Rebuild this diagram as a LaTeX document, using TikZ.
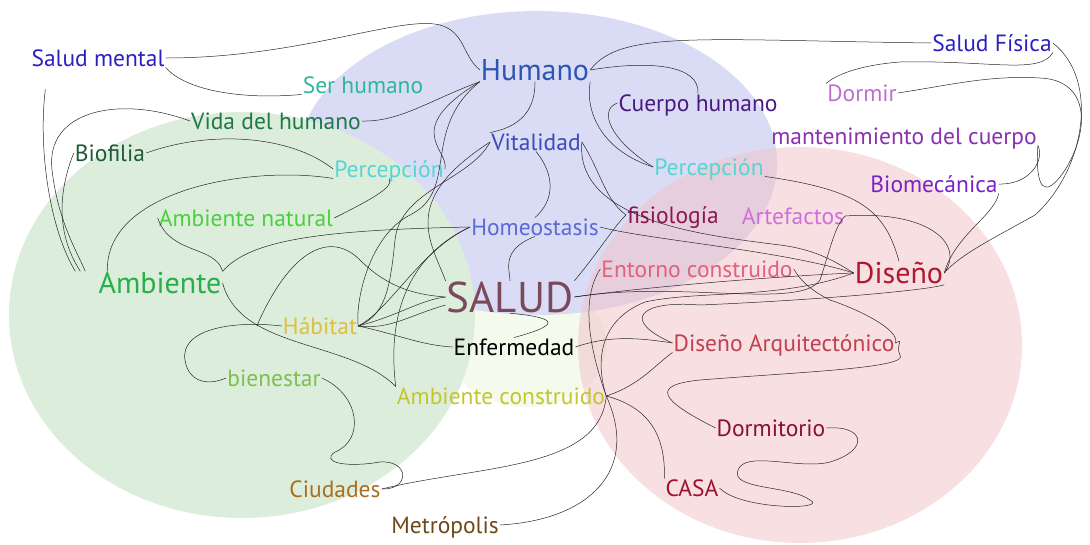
\documentclass[tikz,border=0pt]{standalone}
\usepackage{fontspec}
\setmainfont{PT Sans}
\usepackage{tikz}
\definecolor{bblue}{HTML}{DADBF4}
\definecolor{bgreen}{HTML}{DCEDDC}
\definecolor{bred}{HTML}{F0C4CB}
\definecolor{byell}{HTML}{F5FBEC}
\definecolor{cindigo}{HTML}{2B1FC4}
\definecolor{chum}{HTML}{2D55B3}
\definecolor{cteal}{HTML}{2DB79C}
\definecolor{cdkgreen}{HTML}{1E7848}
\definecolor{cbio}{HTML}{1F5A38}
\definecolor{ccyan}{HTML}{55D6D2}
\definecolor{clime}{HTML}{4ACF3E}
\definecolor{cgreen}{HTML}{2AAE4A}
\definecolor{cvital}{HTML}{3A4ABE}
\definecolor{chomeo}{HTML}{5A69D8}
\definecolor{ccuerpo}{HTML}{4A1A80}
\definecolor{cdormir}{HTML}{BE6FD0}
\definecolor{cmant}{HTML}{8A30B0}
\definecolor{cbiom}{HTML}{7A22C2}
\definecolor{cfisio}{HTML}{8E1650}
\definecolor{cartef}{HTML}{CF6FD8}
\definecolor{centorno}{HTML}{E0607E}
\definecolor{cdiseno}{HTML}{B0182E}
\definecolor{csalud}{HTML}{7A4A5C}
\definecolor{chabitat}{HTML}{DFBF3C}
\definecolor{cbien}{HTML}{7EC04E}
\definecolor{cambc}{HTML}{C4C62E}
\definecolor{cdisarq}{HTML}{C04050}
\definecolor{cdormit}{HTML}{8A1030}
\definecolor{ccasa}{HTML}{A0102E}
\definecolor{cciud}{HTML}{A86F20}
\definecolor{cmetro}{HTML}{6E4818}

\begin{document}
\begin{tikzpicture}[x=1pt,y=-1pt,
  lbl/.style={inner sep=1pt,font=\fontsize{23.5}{24}\selectfont,text height=16.5pt,text depth=0pt},
  big/.style={lbl,font=\fontsize{30}{30}\selectfont,text height=21pt},
  con/.style={draw=black!85,line width=0.5pt}]
\useasboundingbox (0,0) rectangle (1090,544);
\fill[byell] (527,345) ellipse[x radius=80,y radius=62];
\fill[bblue] (537,163) ellipse[x radius=240,y radius=152];
\fill[bred,fill opacity=0.55] (800,345) ellipse[x radius=222,y radius=198];
\fill[bgreen] (242,315) ellipse[x radius=233,y radius=203];

\node[lbl,cindigo] (smental) at (98,58) {Salud mental};
\node[big,chum] (humano) at (535,70) {Humano};
\node[lbl,cteal] (serh) at (363,85) {Ser humano};
\node[lbl,cdkgreen] (vida) at (276,121) {Vida del humano};
\node[lbl,cbio] (biof) at (110,153) {Biofilia};
\node[lbl,ccyan] (percL) at (389,169) {Percepción};
\node[lbl,clime] (ambnat) at (246,218) {Ambiente natural};
\node[big,cgreen] (amb) at (160,283) {Ambiente};
\node[lbl,cvital] (vital) at (536,142) {Vitalidad};
\node[lbl,chomeo] (homeo) at (535,227) {Homeostasis};
\node[lbl,ccuerpo] (cuerpo) at (698,103) {Cuerpo humano};
\node[lbl,ccyan] (percR) at (709,167) {Percepción};
\node[lbl,cdormir] (dormir) at (862,93) {Dormir};
\node[lbl,cmant] (mant) at (904,136) {mantenimiento del cuerpo};
\node[lbl,cbiom] (biomec) at (934,184) {Biomecánica};
\node[lbl,cfisio] (fisio) at (673,215) {fisiología};
\node[lbl,cartef] (artef) at (793,216) {Artefactos};
\node[lbl,centorno] (entorno) at (697,269) {Entorno construido};
\node[big,cdiseno] (diseno) at (899,273) {Diseño};
\node[lbl,csalud,font=\fontsize{43}{43}\selectfont,text height=30pt] (salud) at (510,297) {SALUD};
\node[lbl,chabitat] (habitat) at (320,326) {Hábitat};
\node[lbl,black] (enferm) at (514,347) {Enfermedad};
\node[lbl,cbien] (bienestar) at (274,378) {bienestar};
\node[lbl,cambc] (ambcons) at (501,396) {Ambiente construido};
\node[lbl,cdisarq] (disarq) at (784,343) {Diseño Arquitectónico};
\node[lbl,cdormit] (dormit) at (771,428) {Dormitorio};
\node[lbl,ccasa] (casa) at (692,488) {CASA};
\node[lbl,cciud] (ciud) at (335,489) {Ciudades};
\node[lbl,cmetro] (metro) at (445,525) {Metrópolis};
\node[lbl,cindigo] (sfisica) at (992,43) {Salud Física};

\draw[con] (smental.east) .. controls (300,58) and (400,15) .. (440,25) .. controls (465,32) and (462,55) .. (humano.west);
\draw[con] (smental.south east) .. controls (185,90) and (240,100) .. (serh.south west);
\draw[con] ([shift={(15,22)}]smental.south west) .. controls (38,150) and (50,230) .. ([xshift=-22pt]amb.north west);
\draw[con] (vida.west) .. controls (120,95) and (45,110) .. (52,170) .. controls (58,220) and (75,248) .. ([xshift=-12pt]amb.north west);
\draw[con] (biof.west) .. controls (55,200) and (60,240) .. ([xshift=-17pt]amb.north west);
\draw[con] (biof.east) .. controls (210,130) and (290,135) .. (percL.west);
\draw[con] ([xshift=10pt]amb.north west) .. controls (105,190) and (250,165) .. (percL.south west);
\draw[con] (vida.east) .. controls (400,122) and (430,100) .. (humano.south west);
\draw[con] (humano.south west) .. controls (400,130) and (450,150) .. (percL.east);
\draw[con] (humano.south west) .. controls (420,130) and (460,190) .. (410,215) .. controls (370,235) and (355,300) .. (habitat.east);
\draw[con] (vital.west) .. controls (470,180) and (400,190) .. (395,240) .. controls (390,290) and (385,315) .. (habitat.east);
\draw[con] (ambnat.west) .. controls (170,255) and (215,245) .. (amb.north east);
\draw[con] (ambnat.east) .. controls (370,200) and (395,187) .. (percL.south);
\draw[con] (amb.north east) .. controls (250,240) and (320,230) .. (homeo.west);
\draw[con] (homeo.west) .. controls (420,250) and (385,300) .. (ambcons.north west);
\draw[con] (homeo.west) .. controls (420,250) and (390,310) .. (habitat.east);
\draw[con] (habitat.east) .. controls (400,315) and (420,300) .. (salud.west);
\draw[con] (habitat.east) .. controls (390,330) and (410,315) .. ([yshift=-8pt]salud.west);
\draw[con] (habitat.east) .. controls (400,335) and (420,345) .. (enferm.west);
\draw[con] (amb.east) .. controls (240,350) and (350,340) .. (ambcons.north west);
\draw[con] (habitat.west) .. controls (230,320) and (180,330) .. (185,360) .. controls (188,380) and (205,387) .. (bienestar.west);
\draw[con] ([xshift=-25pt]habitat.west) .. controls (290,250) and (330,230) .. (360,260) .. controls (390,290) and (420,295) .. (salud.west);
\draw[con] (bienestar.east) .. controls (360,395) and (365,440) .. (335,452) .. controls (320,462) and (345,468) .. (380,462) .. controls (410,460) and (410,490) .. (ciud.east);
\draw[con] (ciud.east) .. controls (480,465) and (600,470) .. (ambcons.east);
\draw[con] (metro.east) .. controls (590,520) and (640,470) .. (ambcons.east);
\draw[con] (ambcons.east) .. controls (640,385) and (655,365) .. (disarq.south west);
\draw[con] (ambcons.east) .. controls (595,360) and (600,320) .. (645,302) .. controls (700,290) and (780,300) .. (diseno.west);
\draw[con] (ambcons.east) .. controls (660,410) and (665,450) .. (casa.north west);
\draw[con] (casa.east) .. controls (740,510) and (830,510) .. (810,500) .. controls (790,485) and (730,490) .. (738,470) .. controls (745,450) and (800,470) .. (830,462) .. controls (870,450) and (865,425) .. (dormit.east);
\draw[con] (dormit.west) .. controls (660,400) and (650,385) .. (700,380) .. controls (800,372) and (910,368) .. (900,355) .. controls (895,345) and (905,338) .. (disarq.east);
\draw[con] (disarq.east) .. controls (900,330) and (860,310) .. (830,300) .. controls (810,290) and (800,280) .. (entorno.east);
\draw[con] (disarq.west) .. controls (620,320) and (640,300) .. (700,305) .. controls (820,300) and (930,290) .. (diseno.south east);
\draw[con] (enferm.east) .. controls (610,335) and (640,338) .. (disarq.west);
\draw[con] (salud.east) .. controls (660,285) and (800,275) .. (diseno.west);
\draw[con] (salud.east) .. controls (680,280) and (800,310) .. (820,280) .. controls (830,250) and (835,225) .. (artef.east);
\draw[con] (vital.east) .. controls (575,220) and (700,235) .. (780,245) .. controls (820,250) and (840,265) .. (diseno.west);
\draw[con] (vital.east) .. controls (600,170) and (605,200) .. (fisio.west);
\draw[con] (homeo.east) .. controls (650,240) and (780,250) .. (diseno.west);
\draw[con] (salud.north east) .. controls (600,250) and (615,225) .. (fisio.west);
\draw[con] (entorno.west) .. controls (580,300) and (590,350) .. (ambcons.east);
\draw[con] (artef.east) .. controls (930,210) and (965,245) .. (diseno.east);
\draw[con] (percR.south east) .. controls (860,190) and (885,210) .. (diseno.north);
\draw[con] (biomec.south east) .. controls (995,215) and (955,235) .. (diseno.east);
\draw[con] (sfisica.east) .. controls (1100,80) and (1085,170) .. (1035,215) .. controls (990,240) and (960,255) .. (diseno.east);
\draw[con] (sfisica.south east) .. controls (1040,75) and (990,60) .. (900,62) .. controls (860,65) and (835,75) .. (dormir.north west);
\draw[con] (biomec.east) .. controls (1030,185) and (1045,160) .. (mant.south east);
\draw[con] (mant.south east) .. controls (1035,190) and (1045,200) .. (1065,170) .. controls (1090,130) and (1090,80) .. (1040,78) .. controls (990,75) and (950,85) .. (dormir.east);
\draw[con] (humano.east) .. controls (620,30) and (700,40) .. (sfisica.west);
\draw[con] (humano.east) .. controls (650,60) and (700,65) .. (cuerpo.north);
\draw[con] (humano.south east) .. controls (585,110) and (600,150) .. (percR.west);
\draw[con] (cuerpo.west) .. controls (598,110) and (610,140) .. (percR.west);
\draw[con] (humano.south) .. controls (535,100) and (530,125) .. (vital.north west);
\draw[con] (vital.south) .. controls (555,175) and (555,200) .. (homeo.north);
\draw[con] (salud.north west) .. controls (430,240) and (400,200) .. (vital.west);
\draw[con] (homeo.south) .. controls (500,250) and (510,270) .. (salud.north);
\draw[con] (salud.south) .. controls (560,318) and (560,325) .. (enferm.north);
\end{tikzpicture}
\end{document}
